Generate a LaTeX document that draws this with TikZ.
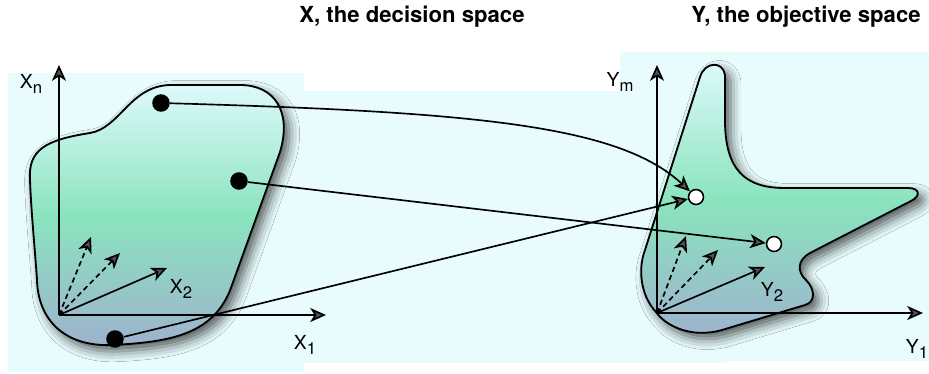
\documentclass[tikz,border=0pt]{standalone}
\usepackage{fontspec}
\setmainfont{TeX Gyre Heros}
\usetikzlibrary{arrows.meta,shadows.blur}

% Colori
\definecolor{sfondo}{RGB}{232,252,253}
\definecolor{alto}{RGB}{222,249,252}
\definecolor{medio}{RGB}{138,228,190}
\definecolor{basso}{RGB}{158,178,206}

% Pedice per le etichette degli assi
\newcommand{\pedice}[1]{\raisebox{-0.55ex}{\fontsize{9.5}{10}\selectfont #1}}

\begin{document}
\begin{tikzpicture}[x=0.02cm, y=-0.02cm, font=\fontsize{11}{13}\selectfont]

    % Stili
    \tikzstyle{regione}=[draw=black, line width=1.05pt,
        top color=alto, bottom color=basso, middle color=medio,
        blur shadow={shadow xshift=3pt, shadow yshift=-3.5pt,
            shadow blur radius=6pt, shadow opacity=65}]
    \tikzstyle{asse}=[line width=0.95pt, -{Stealth[length=9pt, width=8pt, inset=2.5pt]}]
    \tikzstyle{freccia}=[line width=0.95pt, -{Stealth[length=9pt, width=8pt, inset=2.5pt]}]
    \tikzstyle{tratteggio}=[dash pattern=on 3pt off 2pt]
    \tikzstyle{pallino}=[circle, fill=black, minimum size=10pt, inner sep=0pt]
    \tikzstyle{bianco}=[circle, draw=black, fill=white, line width=0.9pt,
        minimum size=8.5pt, inner sep=0pt]
    \tikzstyle{titolo}=[font=\fontsize{12.6}{14}\selectfont\bfseries]

    \useasboundingbox (0,0) rectangle (929,373);

    % Sfondo azzurro
    \fill[sfondo] (8,73) rectangle (304,372);
    \fill[sfondo] (304,91) rectangle (727,363);
    \fill[sfondo] (620,52) rectangle (929,361);

    % Titoli
    \node[titolo] (tx) at (412,17) {X, the decision space};
    \node[titolo] (ty) at (806,17) {Y, the objective space};

    % Regione X
    \draw[regione] (30,180) .. controls (28,150) and (45,140) .. (90,133)
        .. controls (120,128) and (130,86) .. (170,85) -- (240,85)
        .. controls (275,85) and (292,112) .. (280,152) -- (232,285)
        .. controls (215,335) and (170,342) .. (112,345)
        .. controls (65,347) and (38,320) .. (37,280)
        .. controls (35,250) and (31,210) .. (30,180) -- cycle;

    % Regione Y
    \draw[regione] (700,77) .. controls (705,61) and (723,61) .. (725,75) -- (725,120)
        .. controls (725,170) and (745,188) .. (785,188) -- (908,188)
        .. controls (920,188) and (921,196) .. (911,201) -- (810,253)
        .. controls (797,260) and (797,272) .. (806,280)
        .. controls (815,289) and (816,302) .. (805,305) -- (722,330)
        .. controls (690,339) and (665,325) .. (656,312)
        .. controls (640,295) and (638,268) .. (645,250) -- cycle;

    % Assi dello spazio X
    \coordinate (ox) at (59,315);
    \coordinate (xn) at (59,65);
    \coordinate (x1) at (326,315);
    \coordinate (x2) at (167,268);
    \coordinate (xa) at (91,237);
    \coordinate (xb) at (120,253);
    \draw[asse] (ox) -- (xn);
    \draw[asse] (ox) -- (x1);
    \draw[asse] (ox) -- (x2);
    \draw[asse, tratteggio] (ox) -- (xa);
    \draw[asse, tratteggio] (ox) -- (xb);

    % Assi dello spazio Y
    \coordinate (oy) at (657,313);
    \coordinate (ym) at (657,65);
    \coordinate (y1) at (923,313);
    \coordinate (y2) at (765,267);
    \coordinate (ya) at (686,236);
    \coordinate (yb) at (718,250);
    \draw[asse] (oy) -- (ym);
    \draw[asse] (oy) -- (y1);
    \draw[asse] (oy) -- (y2);
    \draw[asse, tratteggio] (oy) -- (ya);
    \draw[asse, tratteggio] (oy) -- (yb);

    % Etichette degli assi
    \node (lxn) at (31,84) {X\pedice{n}};
    \node (lx1) at (305,345) {X\pedice{1}};
    \node (lx2) at (181,289) {X\pedice{2}};
    \node (lym) at (620,82) {Y\pedice{m}};
    \node (ly1) at (917,349) {Y\pedice{1}};
    \node (ly2) at (772,292) {Y\pedice{2}};

    % Punti
    \node[pallino] (a1) at (161,103) {};
    \node[pallino] (a2) at (239,181) {};
    \node[pallino] (a3) at (115,339) {};
    \node[bianco] (b1) at (696,197) {};
    \node[bianco] (b2) at (774,244) {};

    % Frecce tra i due spazi
    \draw[freccia] (a1) .. controls (480,112) and (620,126) .. (b1);
    \draw[freccia] (a2) -- (b2);
    \draw[freccia] (a3) -- (b1);

\end{tikzpicture}
\end{document}
